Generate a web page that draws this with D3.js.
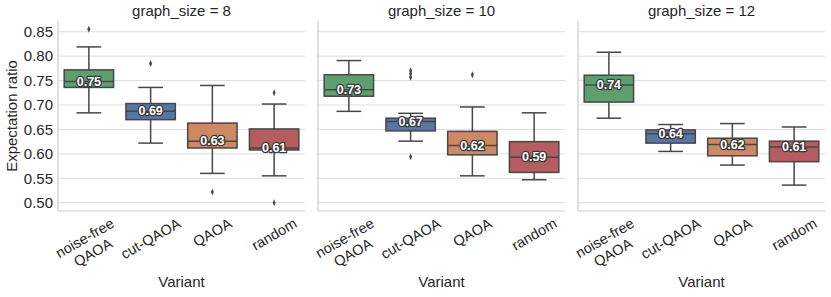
<!DOCTYPE html>
<html>
<head>
<meta charset="utf-8">
<script src="https://cdn.jsdelivr.net/npm/d3@7"></script>
<style>
  html, body { margin: 0; padding: 0; background: #fff; }
  svg { display: block; font-family: "Liberation Sans", Arial, sans-serif; }
</style>
</head>
<body>
<svg id="chart" width="831" height="297"></svg>
<script>
// ---------------- DATA ----------------
const categories = ["noise-free\nQAOA", "cut-QAOA", "QAOA", "random"];
const graphSizes = [8, 10, 12];
const colors = ["#5f9e6e", "#5975a4", "#cc8963", "#b55d60"];
const yTicks = [0.50, 0.55, 0.60, 0.65, 0.70, 0.75, 0.80, 0.85];

// one row per graph_size, one value per category
const whiskerLow  = [[0.684, 0.622, 0.560, 0.555], [0.687, 0.626, 0.555, 0.547], [0.673, 0.605, 0.577, 0.536]];
const q1          = [[0.736, 0.670, 0.612, 0.608], [0.718, 0.647, 0.598, 0.562], [0.706, 0.622, 0.596, 0.584]];
const medians     = [[0.748, 0.687, 0.626, 0.612], [0.731, 0.666, 0.617, 0.593], [0.741, 0.641, 0.619, 0.614]];
const q3          = [[0.772, 0.703, 0.663, 0.651], [0.762, 0.673, 0.646, 0.625], [0.761, 0.649, 0.632, 0.626]];
const whiskerHigh = [[0.819, 0.736, 0.740, 0.702], [0.791, 0.683, 0.696, 0.684], [0.808, 0.660, 0.662, 0.655]];
const outliers    = [
  [[0.855], [0.785], [0.522], [0.725, 0.500]],
  [[], [0.770, 0.764, 0.757, 0.594], [0.762], []],
  [[], [], [], []]
];

// ---------------- LAYOUT ----------------
const svg = d3.select("#chart");
const panelLeft = [58, 318, 578];
const panelW = 247;
const plotTop = 21, plotBottom = 211;
const textColor = "#262626";
const lineColor = "#474747";
const gridColor = "#dddddd";

const y = d3.scaleLinear().domain([0.483, 0.872]).range([plotBottom, plotTop]);

graphSizes.forEach((gs, p) => {
  const x0 = panelLeft[p];
  const x = d3.scaleBand().domain(d3.range(categories.length))
    .range([x0, x0 + panelW]).paddingInner(0.2).paddingOuter(0.1);
  const g = svg.append("g");

  // gridlines
  g.selectAll(".grid").data(yTicks).enter().append("line")
    .attr("x1", x0).attr("x2", x0 + panelW)
    .attr("y1", d => y(d)).attr("y2", d => y(d))
    .attr("stroke", gridColor).attr("stroke-width", 1);

  // spines
  g.append("line").attr("x1", x0).attr("x2", x0).attr("y1", plotTop).attr("y2", plotBottom)
    .attr("stroke", "#cccccc").attr("stroke-width", 1.2);
  g.append("line").attr("x1", x0).attr("x2", x0 + panelW).attr("y1", plotBottom).attr("y2", plotBottom)
    .attr("stroke", "#cccccc").attr("stroke-width", 1.2);

  // y tick labels (first panel only)
  if (p === 0) {
    const yAxis = d3.axisLeft(y).tickValues(yTicks).tickFormat(d3.format(".2f")).tickSize(0).tickPadding(5);
    const ya = svg.append("g").attr("transform", `translate(${x0},0)`).call(yAxis);
    ya.select(".domain").remove();
    ya.selectAll("text").attr("font-size", 15).attr("fill", textColor)
      .attr("font-family", "Liberation Sans, Arial, sans-serif");
    svg.append("text")
      .attr("transform", `translate(13,${(plotTop + plotBottom) / 2}) rotate(-90)`)
      .attr("text-anchor", "middle").attr("dominant-baseline", "middle")
      .attr("font-size", 15).attr("fill", textColor).text("Expectation ratio");
  }

  // title
  svg.append("text").attr("x", x0 + panelW / 2).attr("y", 12.5)
    .attr("text-anchor", "middle").attr("dominant-baseline", "middle")
    .attr("font-size", 15).attr("fill", textColor).text(`graph_size = ${gs}`);

  // boxes
  categories.forEach((c, i) => {
    const cx = x(i) + x.bandwidth() / 2;
    const bw = x.bandwidth();
    const cap = bw / 2;
    const bg = g.append("g");
    bg.append("line").attr("x1", cx).attr("x2", cx)
      .attr("y1", y(q3[p][i])).attr("y2", y(whiskerHigh[p][i]))
      .attr("stroke", lineColor).attr("stroke-width", 1.5);
    bg.append("line").attr("x1", cx).attr("x2", cx)
      .attr("y1", y(q1[p][i])).attr("y2", y(whiskerLow[p][i]))
      .attr("stroke", lineColor).attr("stroke-width", 1.5);
    [whiskerHigh[p][i], whiskerLow[p][i]].forEach(v => {
      bg.append("line").attr("x1", cx - cap / 2).attr("x2", cx + cap / 2)
        .attr("y1", y(v)).attr("y2", y(v))
        .attr("stroke", lineColor).attr("stroke-width", 1.5);
    });
    bg.append("rect").attr("x", x(i)).attr("width", bw)
      .attr("y", y(q3[p][i])).attr("height", y(q1[p][i]) - y(q3[p][i]))
      .attr("fill", colors[i]).attr("stroke", lineColor).attr("stroke-width", 1.5);
    bg.append("line").attr("x1", x(i)).attr("x2", x(i) + bw)
      .attr("y1", y(medians[p][i])).attr("y2", y(medians[p][i]))
      .attr("stroke", lineColor).attr("stroke-width", 1.5);
    const diamond = d3.symbol().type(d3.symbolDiamond).size(14);
    bg.selectAll(".fl").data(outliers[p][i]).enter().append("path")
      .attr("d", diamond)
      .attr("transform", d => `translate(${cx},${y(d)}) scale(0.75,1)`)
      .attr("fill", lineColor);
  });

  // median labels
  categories.forEach((c, i) => {
    const cx = x(i) + x.bandwidth() / 2;
    svg.append("text").attr("x", cx).attr("y", y(medians[p][i]))
      .attr("text-anchor", "middle").attr("dominant-baseline", "central")
      .attr("font-size", 12.5).attr("font-weight", "bold")
      .attr("fill", "#ffffff").attr("stroke", "#3a3a3a").attr("stroke-width", 2.6)
      .attr("stroke-linejoin", "round").attr("paint-order", "stroke")
      .text(medians[p][i].toFixed(2));
  });

  // x tick labels (rotated 30 deg)
  categories.forEach((c, i) => {
    const cx = x(i) + x.bandwidth() / 2;
    const lines = c.split("\n");
    const fs = 14.5, lh = fs * 1.15;
    const t = svg.append("text").attr("text-anchor", "middle")
      .attr("font-size", fs).attr("fill", textColor);
    lines.forEach((ln, k) => {
      t.append("tspan").attr("x", 0)
        .attr("dy", k === 0 ? (-(lines.length - 1) / 2 * lh + fs * 0.35) : lh)
        .text(ln);
    });
    const bb = t.node().getBBox();
    const ang = 30 * Math.PI / 180;
    const H = bb.width * Math.sin(ang) + bb.height * Math.cos(ang);
    t.attr("transform", `translate(${cx},${plotBottom + 4 + H / 2}) rotate(-30)`);
  });

  svg.append("text").attr("x", x0 + panelW / 2).attr("y", 283)
    .attr("text-anchor", "middle").attr("dominant-baseline", "middle")
    .attr("font-size", 15).attr("fill", textColor).text("Variant");
});
</script>
</body>
</html>
